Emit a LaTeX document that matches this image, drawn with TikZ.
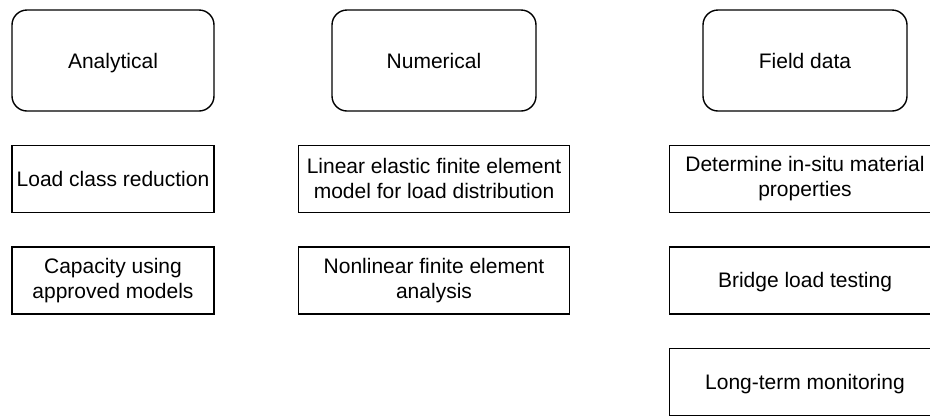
\documentclass[tikz,border=0pt]{standalone}
\usepackage{fontspec}
\setmainfont{Liberation Sans}
\usetikzlibrary{positioning}
\tikzset{
    x=1pt, y=-1pt, % one unit is one pixel of the figure, y grows downwards
    every node/.style={font=\fontsize{21}{25}\selectfont, align=center, inner sep=0pt}, % text of all boxes
    group/.style={draw, line width=1.4pt, rounded corners=15pt, minimum width=204pt, minimum height=101pt, oneline}, % heading boxes
    method/.style={draw, line width=1.4pt, minimum width=271pt, minimum height=67pt}, % boxes under each heading
    oneline/.style={text height=15pt, text depth=0pt}, % keeps one-line texts on the same baseline
    node distance=33pt, % gap between the boxes of one column
}
\begin{document}
\begin{tikzpicture}
    \clip (0,0) rectangle (930,416);
    \node[group, minimum width=202pt] (ana) at (113,60.5) {Analytical};
    \node[method, oneline, minimum width=202pt, below=of ana] (lcr) {Load class reduction};
    \node[method, minimum width=202pt, below=of lcr] (cap) {Capacity using\\approved models};
    \node[group] (num) at (434,60.5) {Numerical};
    \node[method, below=of num] (lin) {Linear elastic finite element\\model for load distribution};
    \node[method, below=of lin] (nonlin) {Nonlinear finite element\\analysis};
    \node[group] (field) at (805,60.5) {Field data};
    \node[method, below=of field] (insitu) {Determine in-situ material\\properties};
    \node[method, oneline, below=of insitu] (test) {Bridge load testing};
    \node[method, oneline, below=of test] (monitor) {Long-term monitoring};
\end{tikzpicture}
\end{document}
